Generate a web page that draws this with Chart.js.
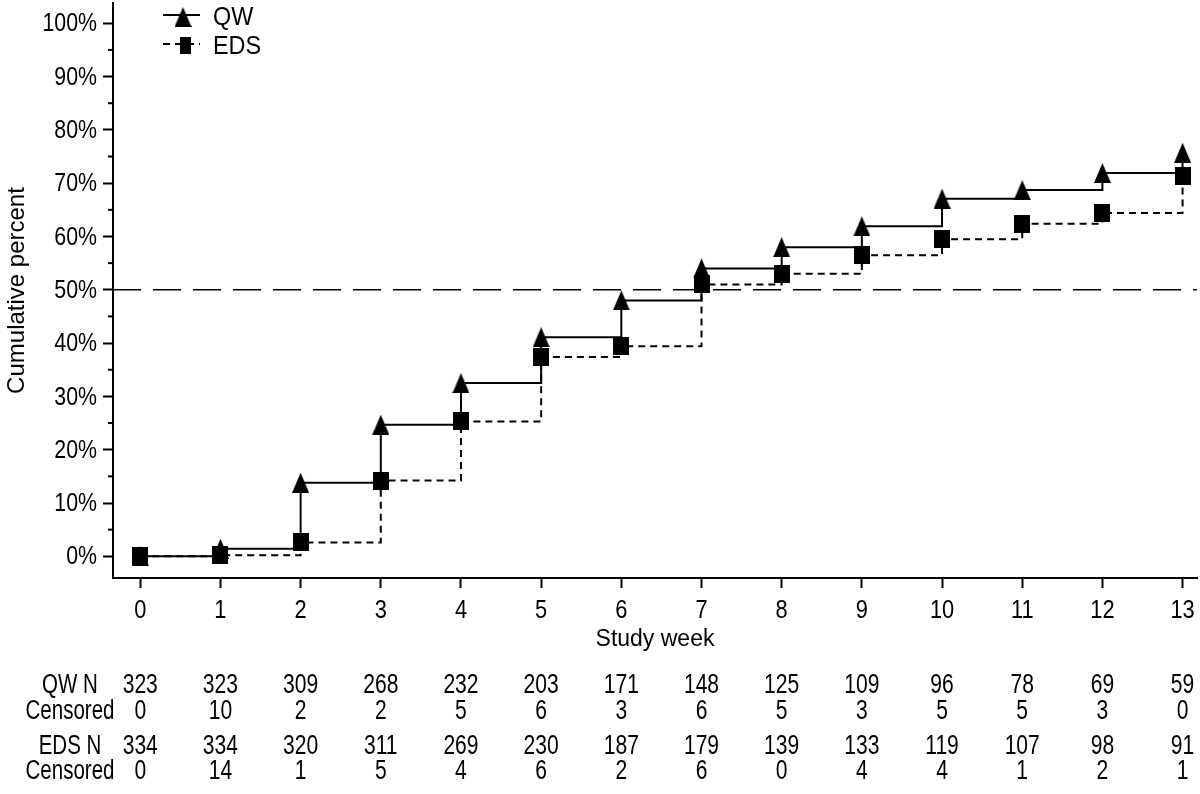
<!DOCTYPE html>
<html lang="en">
<head>
<meta charset="UTF-8">
<title>Cumulative percent by study week</title>
<script src="https://cdn.jsdelivr.net/npm/chart.js"></script>
</head>
<body style="margin:0; background:#fff;">
<canvas id="kmChart" width="1200" height="794"></canvas>
<script>
// values (percent)
const weeks = [0, 1, 2, 3, 4, 5, 6, 7, 8, 9, 10, 11, 12, 13];
const qwPct = [0, 1.4, 13.8, 24.7, 32.5, 41.1, 48.0, 54.0, 58.0, 61.9, 67.1, 68.7, 71.9, 75.7];
const edsPct = [0, 0.2, 2.6, 14.2, 25.3, 37.4, 39.4, 51.0, 53.0, 56.5, 59.5, 62.4, 64.4, 71.4];
const yTicks = [0, 10, 20, 30, 40, 50, 60, 70, 80, 90, 100];
const yMinorTicks = [5, 15, 25, 35, 45, 55, 65, 75, 85, 95];
const refLine = 50;

// numbers at risk table
const tableLabels = ['QW N', 'Censored', 'EDS N', 'Censored'];
const qwN = [323, 323, 309, 268, 232, 203, 171, 148, 125, 109, 96, 78, 69, 59];
const qwCensored = [0, 10, 2, 2, 5, 6, 3, 6, 5, 3, 5, 5, 3, 0];
const edsN = [334, 334, 320, 311, 269, 230, 187, 179, 139, 133, 119, 107, 98, 91];
const edsCensored = [0, 14, 1, 5, 4, 6, 2, 6, 0, 4, 4, 1, 2, 1];
const tableValues = [qwN, qwCensored, edsN, edsCensored];

const regular = '"Liberation Sans", Arial, Helvetica, sans-serif';

function triangleImg(w, h) {
    const c = document.createElement('canvas');
    c.width = w; c.height = h;
    const g = c.getContext('2d');
    g.fillStyle = '#000';
    g.beginPath();
    g.moveTo(w / 2, 0);
    g.lineTo(w, h);
    g.lineTo(0, h);
    g.closePath();
    g.fill();
    return c;
}
function rectImg(w, h) {
    const c = document.createElement('canvas');
    c.width = w; c.height = h;
    const g = c.getContext('2d');
    g.fillStyle = '#000';
    g.fillRect(0, 0, w, h);
    return c;
}
const triMark = triangleImg(17, 20);
const sqMark = rectImg(16, 18);
const sqLegend = rectImg(11, 17);

// the original uses a squeezed Helvetica, so text is drawn with a horizontal scale
function narrowText(ctx, text, x, y, size, sx, align) {
    ctx.save();
    ctx.translate(x, y);
    ctx.scale(sx, 1);
    ctx.font = size + 'px ' + regular;
    ctx.textAlign = align;
    ctx.textBaseline = 'middle';
    ctx.fillText(text, 0, 0);
    ctx.restore();
}

function noPad(s) {
    s.paddingTop = 0; s.paddingBottom = 0;
    s.paddingLeft = 0; s.paddingRight = 0;
}

const extras = {
    id: 'extras',
    beforeDatasetsDraw(chart) {
        const { ctx, chartArea, scales } = chart;
        const y = scales.y.getPixelForValue(refLine);
        ctx.save();
        ctx.strokeStyle = '#000';
        ctx.lineWidth = 1.5;
        ctx.setLineDash([28, 12]);
        ctx.beginPath();
        ctx.moveTo(chartArea.left, y);
        ctx.lineTo(chartArea.right, y);
        ctx.stroke();
        ctx.setLineDash([]);
        ctx.lineWidth = 2;
        yMinorTicks.forEach(v => {
            const py = scales.y.getPixelForValue(v);
            ctx.beginPath();
            ctx.moveTo(chartArea.left - 5, py);
            ctx.lineTo(chartArea.left, py);
            ctx.stroke();
        });
        ctx.restore();
    },
    afterDraw(chart) {
        const { ctx, scales } = chart;
        ctx.save();
        ctx.fillStyle = '#000';

        // tick labels
        scales.y.ticks.forEach(t => {
            narrowText(ctx, t.value + '%', 97, scales.y.getPixelForValue(t.value) + 1, 26, 0.82, 'right');
        });
        scales.x.ticks.forEach(t => {
            narrowText(ctx, String(t.value), scales.x.getPixelForValue(t.value), 611, 26, 0.84, 'center');
        });

        // legend
        ctx.strokeStyle = '#000';
        ctx.lineWidth = 2;
        ctx.beginPath();
        ctx.moveTo(163, 15); ctx.lineTo(200, 15);
        ctx.stroke();
        ctx.drawImage(triMark, 183 - 8.5, 17 - 10);
        ctx.setLineDash([7, 5]);
        ctx.beginPath();
        ctx.moveTo(163, 44); ctx.lineTo(200, 44);
        ctx.stroke();
        ctx.setLineDash([]);
        ctx.drawImage(sqLegend, 185 - 5.5, 45 - 8.5);
        narrowText(ctx, 'QW', 213, 18, 26, 0.9, 'left');
        narrowText(ctx, 'EDS', 213, 47, 26, 0.9, 'left');

        // at-risk table
        const rowY = [686, 712, 747, 772];
        tableLabels.forEach((lab, r) => {
            narrowText(ctx, lab, 70, rowY[r], 27, 0.76, 'center');
            tableValues[r].forEach((v, i) => {
                narrowText(ctx, String(v), scales.x.getPixelForValue(weeks[i]), rowY[r], 27, 0.78, 'center');
            });
        });
        ctx.restore();
    }
};

new Chart(document.getElementById('kmChart'), {
    type: 'line',
    data: {
        datasets: [{
            label: 'QW',
            data: weeks.map((w, i) => ({ x: w, y: qwPct[i] })),
            stepped: true,
            borderColor: '#000',
            borderWidth: 2,
            pointStyle: triMark,
            pointRadius: 10,
            fill: false,
            order: 2
        }, {
            label: 'EDS',
            data: weeks.map((w, i) => ({ x: w, y: edsPct[i] })),
            stepped: true,
            borderColor: '#000',
            borderWidth: 2,
            borderDash: [7, 5],
            pointStyle: sqMark,
            pointRadius: 10,
            fill: false,
            order: 1
        }]
    },
    options: {
        responsive: false,
        animation: false,
        layout: { autoPadding: false, padding: { left: 0, top: 3, right: 3, bottom: 0 } },
        plugins: {
            legend: { display: false },
            tooltip: { enabled: false }
        },
        scales: {
            x: {
                type: 'linear',
                min: -0.34,
                max: 13.18,
                afterBuildTicks: s => { s.ticks = weeks.map(v => ({ value: v })); },
                afterFit: s => { s.height = 216; noPad(s); },
                grid: { drawOnChartArea: false, drawTicks: true, tickLength: 10, tickWidth: 2, tickColor: '#000' },
                border: { display: true, color: '#000', width: 2 },
                ticks: { display: false },
                title: {
                    display: true,
                    text: 'Study week',
                    color: '#000',
                    font: { family: regular, size: 23 },
                    padding: { top: 0, bottom: 141 }
                }
            },
            y: {
                min: -4.07,
                max: 103.8,
                afterBuildTicks: s => { s.ticks = yTicks.map(v => ({ value: v })); },
                afterFit: s => { s.width = 113; noPad(s); },
                grid: { drawOnChartArea: false, drawTicks: true, tickLength: 10, tickWidth: 2, tickColor: '#000' },
                border: { display: true, color: '#000', width: 2 },
                ticks: { display: false },
                title: {
                    display: true,
                    text: 'Cumulative percent',
                    color: '#000',
                    font: { family: regular, size: 24 },
                    padding: { top: 3, bottom: 0 }
                }
            }
        }
    },
    plugins: [extras]
});
</script>
</body>
</html>
